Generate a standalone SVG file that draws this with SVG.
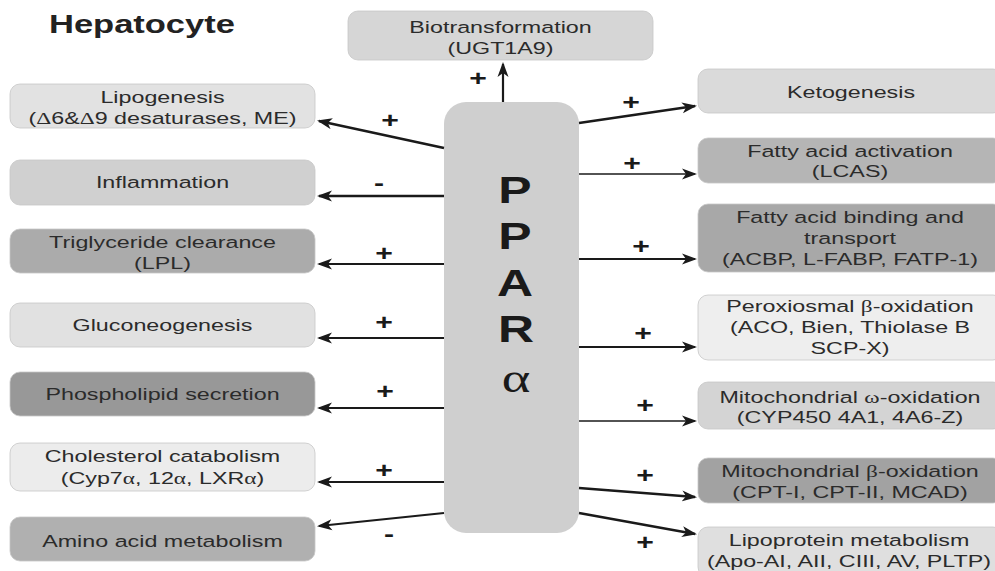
<svg xmlns="http://www.w3.org/2000/svg" width="995" height="571" viewBox="0 0 995 571">
<style>
.box{stroke:#c6c6c6;stroke-width:0.8}
.t{font-family:"Liberation Sans",Arial,sans-serif;font-size:17px;fill:#2b2b2b;text-anchor:middle}
.g{font-family:"Liberation Serif","Times New Roman",serif}
.s{font-family:"Liberation Sans",Arial,sans-serif;font-weight:bold;font-size:22px;fill:#1a1a1a;text-anchor:middle}
.big{font-family:"Liberation Sans",Arial,sans-serif;font-weight:bold;font-size:37px;fill:#1a1a1a;text-anchor:middle}
.c{stroke:#1a1a1a;stroke-width:2.2;fill:none}
.thin{stroke-width:1.5}
</style>
<defs>
<marker id="ah" markerWidth="16" markerHeight="12" refX="13" refY="6" orient="auto" markerUnits="userSpaceOnUse">
<path d="M0,0.5 L15,6 L0,11.5 L4,6 z" fill="#1a1a1a"/>
</marker>
</defs>
<rect width="995" height="571" fill="#ffffff"/>
<g id="title">
<text transform="translate(49,33) scale(1.38,1)" style="font-family:'Liberation Sans',Arial,sans-serif;font-weight:bold;font-size:25px;fill:#222">Hepatocyte</text>
</g>
<g id="ppar">
<rect x="444" y="102" width="135" height="431" rx="22" fill="#cfcfcf"/>
<text class="big" transform="translate(515,203) scale(1.35,1)">P</text>
<text class="big" transform="translate(515,249) scale(1.35,1)">P</text>
<text class="big" transform="translate(515,296) scale(1.35,1)">A</text>
<text class="big" transform="translate(516,342) scale(1.35,1)">R</text>
<text transform="translate(516,392) scale(1.3,1)" style="font-family:'Liberation Serif','Times New Roman',serif;font-size:42px;fill:#1a1a1a;text-anchor:middle">α</text>
</g>
<g id="biotransformation">
<rect class="box" x="348" y="11" width="305" height="49" rx="10" fill="#d6d6d6"/>
<text class="t" transform="translate(500.5,33) scale(1.37,1)"><tspan x="0">Biotransformation</tspan><tspan x="0" dy="21">(UGT1A9)</tspan></text>
</g>
<g id="lipogenesis">
<rect class="box" x="10" y="84" width="305" height="44" rx="10" fill="#e2e2e2"/>
<text class="t" transform="translate(162.5,103) scale(1.37,1)"><tspan x="0">Lipogenesis</tspan><tspan x="0" dy="21">(<tspan class="g">Δ</tspan>6&amp;<tspan class="g">Δ</tspan>9 desaturases, ME)</tspan></text>
</g>
<g id="inflammation">
<rect class="box" x="10" y="160" width="305" height="45" rx="10" fill="#d0d0d0"/>
<text class="t" transform="translate(162.5,188) scale(1.37,1)">Inflammation</text>
</g>
<g id="triglyceride">
<rect class="box" x="10" y="229" width="305" height="44" rx="10" fill="#ababab"/>
<text class="t" transform="translate(162.5,248) scale(1.37,1)"><tspan x="0">Triglyceride clearance</tspan><tspan x="0" dy="21">(LPL)</tspan></text>
</g>
<g id="gluconeogenesis">
<rect class="box" x="10" y="303" width="305" height="44" rx="10" fill="#e1e1e1"/>
<text class="t" transform="translate(162.5,331) scale(1.37,1)">Gluconeogenesis</text>
</g>
<g id="phospholipid">
<rect class="box" x="10" y="372" width="305" height="44" rx="10" fill="#989898"/>
<text class="t" transform="translate(162.5,400) scale(1.37,1)">Phospholipid secretion</text>
</g>
<g id="cholesterol">
<rect class="box" x="10" y="443" width="305" height="48" rx="10" fill="#ececec"/>
<text class="t" transform="translate(162.5,462) scale(1.37,1)"><tspan x="0">Cholesterol catabolism</tspan><tspan x="0" dy="22">(Cyp7<tspan class="g">α</tspan>, 12<tspan class="g">α</tspan>, LXR<tspan class="g">α</tspan>)</tspan></text>
</g>
<g id="amino">
<rect class="box" x="10" y="517" width="305" height="44" rx="10" fill="#b0b0b0"/>
<text class="t" transform="translate(162.5,547) scale(1.37,1)">Amino acid metabolism</text>
</g>
<g id="ketogenesis">
<rect class="box" x="698" y="69" width="305" height="44" rx="10" fill="#dadada"/>
<text class="t" transform="translate(851,98) scale(1.37,1)">Ketogenesis</text>
</g>
<g id="fa-activation">
<rect class="box" x="698" y="138" width="305" height="45" rx="10" fill="#b5b5b5"/>
<text class="t" transform="translate(850,157) scale(1.37,1)"><tspan x="0">Fatty acid activation</tspan><tspan x="0" dy="20">(LCAS)</tspan></text>
</g>
<g id="fa-binding">
<rect class="box" x="698" y="204" width="305" height="68" rx="10" fill="#a8a8a8"/>
<text class="t" transform="translate(850,223) scale(1.37,1)"><tspan x="0">Fatty acid binding and</tspan><tspan x="0" dy="21">transport</tspan><tspan x="0" dy="21">(ACBP, L-FABP, FATP-1)</tspan></text>
</g>
<g id="peroxisomal">
<rect class="box" x="698" y="295" width="305" height="65" rx="10" fill="#eeeeee"/>
<text class="t" transform="translate(850,312) scale(1.37,1)"><tspan x="0">Peroxiosmal <tspan class="g">β</tspan>-oxidation</tspan><tspan x="0" dy="21">(ACO, Bien, Thiolase B</tspan><tspan x="0" dy="21">SCP-X)</tspan></text>
</g>
<g id="mito-omega">
<rect class="box" x="698" y="382" width="305" height="47" rx="10" fill="#d4d4d4"/>
<text class="t" transform="translate(850,403) scale(1.37,1)"><tspan x="0">Mitochondrial <tspan class="g">ω</tspan>-oxidation</tspan><tspan x="0" dy="20">(CYP450 4A1, 4A6-Z)</tspan></text>
</g>
<g id="mito-beta">
<rect class="box" x="698" y="458" width="305" height="45" rx="10" fill="#a2a2a2"/>
<text class="t" transform="translate(850,477) scale(1.37,1)"><tspan x="0">Mitochondrial <tspan class="g">β</tspan>-oxidation</tspan><tspan x="0" dy="21">(CPT-I, CPT-II, MCAD)</tspan></text>
</g>
<g id="lipoprotein">
<rect class="box" x="698" y="527" width="305" height="50" rx="10" fill="#dfdfdf"/>
<text class="t" transform="translate(849,546) scale(1.37,1)"><tspan x="0">Lipoprotein metabolism</tspan><tspan x="0" dy="21">(Apo-AI, AII, CIII, AV, PLTP)</tspan></text>
</g>
<g id="connectors">
<line class="c" x1="503" y1="102" x2="503" y2="64" marker-end="url(#ah)"/>
<line class="c" x1="444" y1="148" x2="319" y2="121" marker-end="url(#ah)" style="stroke-width:2.6"/>
<line class="c" x1="444" y1="196" x2="319" y2="196" marker-end="url(#ah)" style="stroke-width:2.6"/>
<line class="c" x1="444" y1="264" x2="319" y2="264" marker-end="url(#ah)"/>
<line class="c" x1="444" y1="338" x2="319" y2="338" marker-end="url(#ah)"/>
<line class="c" x1="444" y1="408" x2="319" y2="408" marker-end="url(#ah)"/>
<line class="c" x1="444" y1="482" x2="319" y2="482" marker-end="url(#ah)"/>
<line class="c" x1="444" y1="513" x2="319" y2="526" marker-end="url(#ah)"/>
<line class="c" x1="579" y1="123" x2="695" y2="106" marker-end="url(#ah)" style="stroke-width:2.6"/>
<line class="c thin" x1="579" y1="174" x2="695" y2="174" marker-end="url(#ah)"/>
<line class="c" x1="579" y1="259" x2="695" y2="259" marker-end="url(#ah)"/>
<line class="c" x1="579" y1="347" x2="695" y2="347" marker-end="url(#ah)"/>
<line class="c thin" x1="579" y1="421" x2="695" y2="421" marker-end="url(#ah)"/>
<line class="c" x1="579" y1="488" x2="695" y2="497" marker-end="url(#ah)" style="stroke-width:2.6"/>
<line class="c" x1="579" y1="513" x2="695" y2="534" marker-end="url(#ah)" style="stroke-width:2.4"/>
</g>
<g id="signs">
<text class="s" transform="translate(478,86) scale(1.37,1)">+</text>
<text class="s" transform="translate(390,128) scale(1.37,1)">+</text>
<text class="s" transform="translate(379,190) scale(1.37,1)">-</text>
<text class="s" transform="translate(384,261) scale(1.37,1)">+</text>
<text class="s" transform="translate(384,330) scale(1.37,1)">+</text>
<text class="s" transform="translate(385,399) scale(1.37,1)">+</text>
<text class="s" transform="translate(384,478) scale(1.37,1)">+</text>
<text class="s" transform="translate(389,541) scale(1.37,1)">-</text>
<text class="s" transform="translate(631,110) scale(1.37,1)">+</text>
<text class="s" transform="translate(632,171) scale(1.37,1)">+</text>
<text class="s" transform="translate(641,254) scale(1.37,1)">+</text>
<text class="s" transform="translate(643,341) scale(1.37,1)">+</text>
<text class="s" transform="translate(645,413) scale(1.37,1)">+</text>
<text class="s" transform="translate(645,483) scale(1.37,1)">+</text>
<text class="s" transform="translate(645,550) scale(1.37,1)">+</text>
</g>
</svg>
